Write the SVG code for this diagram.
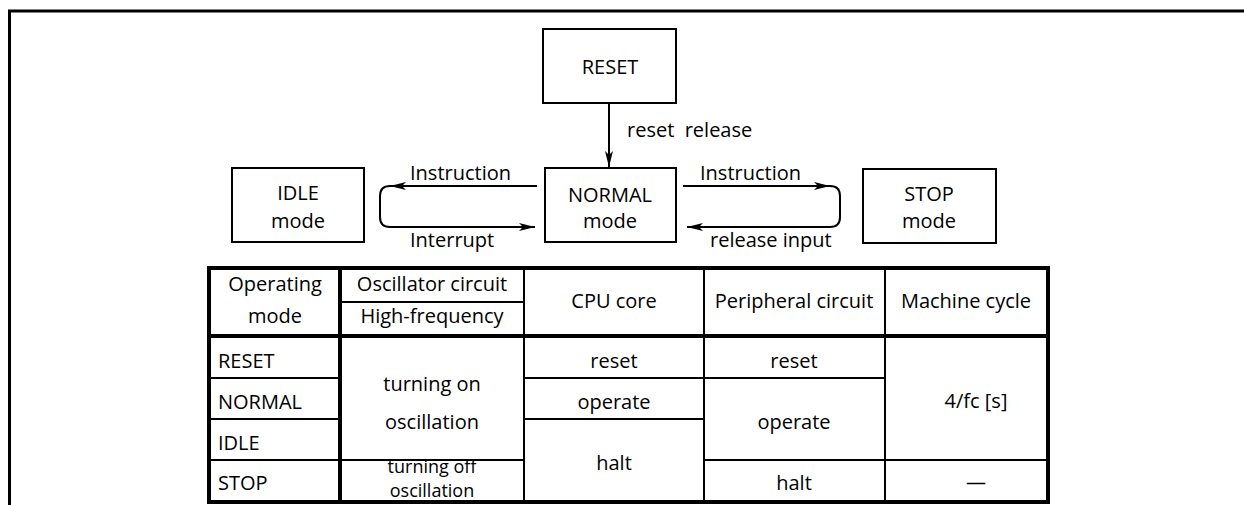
<svg xmlns="http://www.w3.org/2000/svg" width="1244" height="505" viewBox="0 0 1244 505">
<defs>
<style>
text{font-family:"Open Sans","Noto Sans","Liberation Sans",sans-serif;font-size:20px;fill:#000}
.c{text-anchor:middle}
.sq{font-size:18px}
.box{fill:#fff;stroke:#000;stroke-width:2}
.ln{fill:none;stroke:#000;stroke-width:2}
.thk{fill:none;stroke:#000;stroke-width:4}
.thin{fill:none;stroke:#000;stroke-width:2}
</style>
<marker id="ah" viewBox="0 0 16 8" refX="16" refY="4" markerWidth="16" markerHeight="8" markerUnits="userSpaceOnUse" orient="auto">
<path d="M0,0 L16,4 L0,8 L4,4 Z" fill="#000"/>
</marker>
</defs>
<rect width="1244" height="505" fill="#fff"/>
<path d="M9.5,505 V11 H1244" fill="none" stroke="#000" stroke-width="3"/>

<g id="node-reset"><rect class="box" x="543" y="29" width="133" height="74"/><text class="c" x="610" y="74">RESET</text></g>
<g id="node-normal"><rect class="box" x="545" y="168" width="131" height="74"/><text class="c" x="610" y="202">NORMAL</text><text class="c" x="610" y="228">mode</text></g>
<g id="node-idle"><rect class="box" x="232" y="168" width="132" height="74"/><text class="c" x="298" y="200">IDLE</text><text class="c" x="298" y="228">mode</text></g>
<g id="node-stop"><rect class="box" x="863" y="169" width="133" height="74"/><text class="c" x="929" y="201">STOP</text><text class="c" x="929" y="228">mode</text></g>

<g id="connectors">
<path class="ln" d="M609,103 V167" marker-end="url(#ah)"/>
<path class="ln" d="M537,186 H390" marker-end="url(#ah)"/>
<path class="ln" d="M390,186 Q380,186 380,196 V217 Q380,227 390,227 H535" marker-end="url(#ah)"/>
<path class="ln" d="M683,186 H830" marker-end="url(#ah)"/>
<path class="ln" d="M830,186 Q840,186 840,196 V217 Q840,227 830,227 H687" marker-end="url(#ah)"/>
<text x="627" y="137" xml:space="preserve">reset  release</text>
<text x="410" y="180">Instruction</text>
<text x="410" y="247">Interrupt</text>
<text x="700" y="180">Instruction</text>
<text x="710" y="247">release input</text>
</g>

<g id="table">
<path class="thin" d="M340,302 H524 M524,268 V502 M704,268 V502 M885,268 V502"/>
<path class="thin" d="M209,378 H340 M524,378 H885 M209,419 H340 M524,419 H704 M209,460 H524 M704,460 H1048"/>
<path class="thk" d="M209,336 H1048 M340,268 V502"/>
<rect class="thk" x="209" y="268" width="839" height="234"/>
<text class="c" x="275" y="291">Operating</text>
<text class="c" x="275" y="323">mode</text>
<text class="c" x="432" y="291">Oscillator circuit</text>
<text class="c" x="432" y="323">High-frequency</text>
<text class="c" x="614" y="308">CPU core</text>
<text class="c" x="794" y="308">Peripheral circuit</text>
<text class="c" x="966" y="308">Machine cycle</text>
<text x="218" y="368">RESET</text>
<text x="218" y="409">NORMAL</text>
<text x="218" y="450">IDLE</text>
<text x="218" y="490">STOP</text>
<text class="c" x="432" y="391">turning on</text>
<text class="c" x="432" y="429">oscillation</text>
<text class="c sq" x="432" y="473">turning off</text>
<text class="c sq" x="432" y="497">oscillation</text>
<text class="c" x="614" y="368">reset</text>
<text class="c" x="614" y="409">operate</text>
<text class="c" x="614" y="470">halt</text>
<text class="c" x="794" y="368">reset</text>
<text class="c" x="794" y="429">operate</text>
<text class="c" x="794" y="490">halt</text>
<text class="c" x="976" y="408">4/fc [s]</text>
<text class="c" x="976" y="489">—</text>
</g>
</svg>
